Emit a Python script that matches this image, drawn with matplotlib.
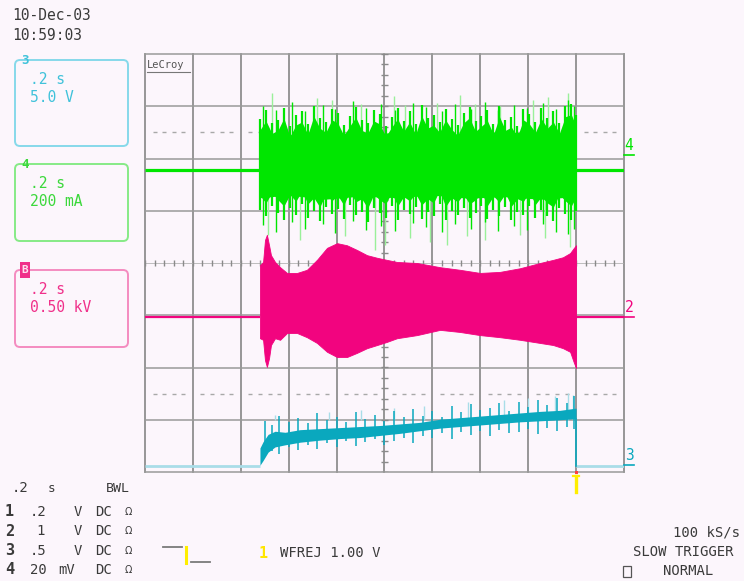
import numpy as np
import matplotlib
matplotlib.use("Agg")
import matplotlib.pyplot as plt
from matplotlib.patches import FancyBboxPatch, Rectangle
from matplotlib.lines import Line2D

W, H = 744, 581
BG = '#fcf6fc'
GRID = '#8a8a8a'
MONO = 'DejaVu Sans Mono'

# ---- screen set-up: 0.2 s/div, 10 x 8 divisions ----
time_per_div = 0.2
n_hdiv = 10
n_vdiv = 8

burst_start = 0.48   # s
burst_end = 1.80     # s (trigger point)

# trace offsets on screen (divisions)
ch4_level = 1.78
ch2_level = -1.03
ch3_level = -3.885

# ---- channel 2 (pink, 0.50 kV/div): envelope of the burst, in divisions ----
ch2_t = [0.480, 0.493, 0.501, 0.509, 0.518, 0.526, 0.543, 0.564, 0.593, 0.635,
         0.676, 0.718, 0.760, 0.802, 0.843, 0.885, 0.927, 0.969, 1.010, 1.052,
         1.136, 1.232, 1.315, 1.399, 1.482, 1.566, 1.649, 1.704, 1.745, 1.775,
         1.791, 1.800]
ch2_upper = [-0.04, 0.02, 0.44, 0.54, 0.34, 0.15, 0.02, -0.08, -0.19, -0.19,
             -0.13, 0.06, 0.29, 0.38, 0.34, 0.25, 0.15, 0.10, 0.06, 0.02,
             0.00, -0.08, -0.13, -0.19, -0.17, -0.10, 0.00, 0.06, 0.11, 0.19,
             0.29, 0.34]
ch2_lower = [-1.44, -1.47, -1.86, -1.99, -1.82, -1.57, -1.44, -1.47, -1.34, -1.34,
             -1.42, -1.53, -1.70, -1.80, -1.80, -1.72, -1.63, -1.57, -1.51, -1.44,
             -1.38, -1.28, -1.32, -1.38, -1.42, -1.47, -1.53, -1.57, -1.63, -1.70,
             -1.91, -2.01]

# ---- channel 4 (green, 200 mA/div), in divisions ----
# solid centre of the burst
ch4_core_t = [0.482, 0.600, 0.750, 0.900, 1.050, 1.200, 1.350, 1.500, 1.650, 1.798]
ch4_core_upper = [2.50, 2.45, 2.52, 2.46, 2.50, 2.44, 2.48, 2.52, 2.46, 2.50]
ch4_core_lower = [1.25, 1.30, 1.22, 1.28, 1.25, 1.30, 1.24, 1.27, 1.22, 1.27]
# dense sample-to-sample excursions around it
ch4_t = [0.482, 0.505, 0.530, 0.555, 0.580, 0.605, 0.630, 0.655, 0.680, 0.705,
         0.730, 0.755, 0.780, 0.805, 0.830, 0.855, 0.880, 0.905, 0.930, 0.955,
         0.980, 1.005, 1.030, 1.055, 1.080, 1.105, 1.130, 1.155, 1.180, 1.205,
         1.230, 1.255, 1.280, 1.305, 1.330, 1.355, 1.380, 1.405, 1.430, 1.455,
         1.480, 1.505, 1.530, 1.555, 1.580, 1.605, 1.630, 1.655, 1.680, 1.705,
         1.730, 1.755, 1.780, 1.798]
ch4_upper = [2.76, 2.92, 2.68, 2.74, 2.97, 2.62, 2.84, 2.90, 2.66, 3.01,
             2.78, 2.70, 2.94, 2.88, 2.64, 2.82, 2.99, 2.74, 2.68, 2.92,
             2.86, 2.62, 2.80, 2.96, 2.72, 2.90, 2.66, 3.02, 2.78, 2.84,
             2.70, 2.94, 2.76, 2.64, 2.88, 2.98, 2.72, 2.82, 2.92, 2.66,
             3.00, 2.74, 2.80, 2.62, 2.94, 2.86, 2.70, 2.96, 2.78, 2.90,
             2.68, 3.00, 3.04, 2.84]
ch4_lower = [1.02, 0.89, 1.09, 0.95, 0.83, 1.05, 0.92, 1.12, 0.87, 0.99,
             0.81, 1.07, 0.93, 1.03, 0.85, 1.11, 0.91, 0.97, 0.79, 1.05,
             0.95, 0.87, 1.09, 0.83, 1.01, 0.93, 1.07, 0.85, 0.97, 0.89,
             1.13, 0.82, 0.99, 0.91, 1.05, 0.87, 0.95, 1.09, 0.84, 1.02,
             0.90, 1.07, 0.83, 0.97, 0.92, 1.10, 0.86, 1.01, 0.89, 0.81,
             1.05, 0.93, 0.83, 0.99]
# isolated peaks reaching further out
ch4_peak_t = [0.493, 0.545, 0.612, 0.668, 0.742, 0.795, 0.868, 0.921, 0.987, 1.043,
              1.118, 1.172, 1.238, 1.293, 1.362, 1.418, 1.473, 1.541, 1.597, 1.662,
              1.718, 1.768, 1.790]
ch4_peak_hi = [3.00, 2.92, 3.08, 2.90, 3.02, 2.94, 3.10, 2.96, 3.04, 2.92,
               3.06, 2.98, 2.90, 3.05, 2.95, 3.08, 2.93, 3.02, 2.96, 3.06,
               2.94, 3.12, 3.00]
ch4_peak_lo = [0.72, 0.60, 0.78, 0.66, 0.74, 0.58, 0.80, 0.64, 0.70, 0.62,
               0.76, 0.68, 0.60, 0.74, 0.66, 0.78, 0.62, 0.70, 0.64, 0.74,
               0.60, 0.56, 0.66]
# faint single-sample excursions
ch4_up_t = [0.530, 0.718, 0.781, 0.900, 1.040, 1.086, 1.219, 1.315, 1.378, 1.482,
            1.620, 1.683, 1.766]
ch4_up_hi = [3.25, 3.16, 3.12, 3.05, 3.20, 3.02, 3.06, 3.22, 3.05, 3.00,
             3.12, 3.18, 3.25]
ch4_dn_t = [0.514, 0.647, 0.835, 0.960, 1.002, 1.106, 1.190, 1.261, 1.344, 1.420,
            1.566, 1.670, 1.775]
ch4_dn_lo = [0.54, 0.44, 0.52, 0.25, 0.34, 0.48, 0.40, 0.34, 0.52, 0.44,
             0.54, 0.48, 0.30]

# ---- channel 3 (cyan, 5.0 V/div): rising noisy band, in divisions ----
ch3_t = [0.480, 0.493, 0.514, 0.543, 0.585, 0.647, 0.731, 0.814, 0.898, 0.981,
         1.065, 1.148, 1.232, 1.315, 1.399, 1.482, 1.566, 1.649, 1.733, 1.795,
         1.800]
ch3_upper = [-3.54, -3.42, -3.28, -3.22, -3.24, -3.19, -3.17, -3.15, -3.13, -3.11,
             -3.08, -3.05, -2.99, -2.96, -2.93, -2.90, -2.87, -2.84, -2.82, -2.78,
             -2.78]
ch3_lower = [-3.87, -3.78, -3.62, -3.52, -3.48, -3.43, -3.39, -3.36, -3.34, -3.30,
             -3.26, -3.21, -3.16, -3.13, -3.10, -3.07, -3.04, -3.02, -3.00, -2.98,
             -2.98]
ch3_peak_t = [0.50, 0.53, 0.56, 0.60, 0.64, 0.68, 0.72, 0.76, 0.80, 0.84,
              0.88, 0.92, 0.96, 1.00, 1.04, 1.08, 1.12, 1.16, 1.20, 1.24,
              1.28, 1.32, 1.36, 1.40, 1.44, 1.48, 1.52, 1.56, 1.60, 1.64,
              1.68, 1.72, 1.76, 1.79]
ch3_peak_hi = [-3.02, -3.10, -2.92, -3.04, -2.96, -3.06, -2.88, -3.00, -2.94, -3.05,
               -2.86, -2.98, -2.90, -3.02, -2.84, -2.95, -2.80, -2.92, -2.84, -2.94,
               -2.74, -2.86, -2.70, -2.82, -2.78, -2.68, -2.84, -2.66, -2.76, -2.62,
               -2.72, -2.58, -2.68, -2.54]
ch3_peak_lo = [-3.70, -3.60, -3.66, -3.52, -3.58, -3.48, -3.56, -3.44, -3.52, -3.40,
               -3.50, -3.42, -3.36, -3.48, -3.40, -3.34, -3.44, -3.32, -3.34, -3.26,
               -3.36, -3.24, -3.30, -3.22, -3.32, -3.20, -3.26, -3.24, -3.18, -3.28,
               -3.16, -3.22, -3.14, -3.18]
ch3_up_t = [0.543, 0.770, 0.900, 1.040, 1.165, 1.350, 1.500, 1.600, 1.710, 1.766, 1.785]
ch3_up_hi = [-2.91, -2.85, -2.81, -2.78, -2.74, -2.66, -2.62, -2.58, -2.54, -2.49, -2.53]

# ---- annotation text ----
date_str = '10-Dec-03'
time_str = '10:59:03'
zoom_boxes = [  # (tag, time/div, volts/div, line colour, text colour, top, bottom)
    ('3', '.2 s', '5.0 V', '#86d9ea', '#40c2da', 60, 146),
    ('4', '.2 s', '200 mA', '#86ea86', '#3cd83c', 164, 241),
    ('B', '.2 s', '0.50 kV', '#f48cc0', '#f0308a', 270, 347),
]
chan_rows = [('1', '.2', 'V'), ('2', '1', 'V'), ('3', '.5', 'V'), ('4', '20', 'mV')]

PINK = '#f2047f'
GREEN = '#00e600'
GREEN_LT = '#9af09a'
CYAN = '#0aa8be'
CYAN_LT = '#a9dde8'
TXT = '#3a3a3a'

fig = plt.figure(figsize=(W / 100, H / 100), dpi=100, facecolor=BG)
ax = fig.add_axes([145 / W, 1 - 472 / H, 479 / W, 418 / H])
t_max = n_hdiv * time_per_div
ax.set_xlim(0, t_max)
ax.set_ylim(-n_vdiv / 2, n_vdiv / 2)
ax.axis('off')

# graticule
for i in range(n_hdiv + 1):
    ax.axvline(i * time_per_div, color=GRID, lw=1.25, zorder=1, clip_on=False)
for j in [-4, -3, -2, -1, 1, 2, 3, 4]:
    ax.axhline(j, color='#9a9a9a', lw=1.1, zorder=1, clip_on=False)
ax.axhline(0, color='#b4b4b4', lw=0.6, zorder=1)
minor_x = np.arange(0, t_max + 1e-9, time_per_div / 5)
minor_y = np.arange(-4, 4 + 1e-9, 0.2)
ax.vlines(minor_x, -0.06, 0.06, color=GRID, lw=1.0, zorder=1)
ax.hlines(minor_y, t_max / 2 - 0.016, t_max / 2 + 0.016, color=GRID, lw=1.0, zorder=1)
dot_x = [x for x in minor_x if abs(x / time_per_div - round(x / time_per_div)) > 1e-6]
for yd in (2.5, -2.5):
    ax.plot(dot_x, [yd] * len(dot_x), ls='none', marker='_', ms=2.5, mew=1.0,
            color='#a8a8a8', zorder=1)

# channel 4 (green)
ax.plot([0, burst_start], [ch4_level] * 2, color=GREEN, lw=2.3, zorder=3, solid_capstyle='butt')
ax.plot([burst_end, t_max], [ch4_level] * 2, color=GREEN, lw=2.3, zorder=3, solid_capstyle='butt')
ax.vlines(ch4_up_t, 2.0, ch4_up_hi, color=GREEN_LT, lw=1.0, zorder=2)
ax.vlines(ch4_dn_t, ch4_dn_lo, 1.5, color=GREEN_LT, lw=1.0, zorder=2)
ax.vlines(ch4_peak_t, ch4_peak_lo, ch4_peak_hi, color=GREEN, lw=1.0, zorder=3)
ax.vlines(ch4_t, ch4_lower, ch4_upper, color=GREEN, lw=1.6, zorder=3)
ax.fill_between(ch4_t, [v + 0.26 for v in ch4_lower], [v - 0.20 for v in ch4_upper],
                color=GREEN, lw=0, zorder=3)
ax.fill_between(ch4_core_t, ch4_core_lower, ch4_core_upper, color=GREEN, lw=0, zorder=3)

# channel 2 (pink)
ax.plot([0, burst_start], [ch2_level] * 2, color=PINK, lw=1.6, zorder=3, solid_capstyle='butt')
ax.plot([burst_end, t_max], [ch2_level] * 2, color=PINK, lw=1.6, zorder=3, solid_capstyle='butt')
ax.fill_between(ch2_t, ch2_lower, ch2_upper, color=PINK, lw=0.6, ec=PINK, zorder=3)

# channel 3 (cyan)
ax.plot([0, burst_start], [ch3_level] * 2, color=CYAN_LT, lw=2.0, zorder=3, solid_capstyle='butt')
ax.plot([burst_end, t_max], [ch3_level] * 2, color=CYAN_LT, lw=2.0, zorder=3, solid_capstyle='butt')
ax.plot([burst_end, burst_end], [ch3_lower[-1], ch3_level], color=CYAN, lw=1.2, zorder=3)
ax.vlines(ch3_up_t, -3.0, ch3_up_hi, color=CYAN_LT, lw=1.0, zorder=2)
ax.vlines(ch3_peak_t, ch3_peak_lo, ch3_peak_hi, color=CYAN, lw=1.1, zorder=3)
ax.fill_between(ch3_t, ch3_lower, ch3_upper, color=CYAN, lw=0, zorder=3)


def ftext(x, y, s, **kw):
    kw.setdefault('family', MONO)
    kw.setdefault('color', TXT)
    kw.setdefault('size', 10.5)
    fig.text(x / W, 1 - y / H, s, ha=kw.pop('ha', 'left'), va=kw.pop('va', 'center'), **kw)


def pline(xs, ys, color, lw=1.2):
    fig.add_artist(Line2D(xs, [H - y for y in ys], color=color, lw=lw, transform=None))


# LeCroy tag in the graticule corner
ftext(147, 65, 'LeCroy', size=7.5, color='#555555')
pline([147, 190], [72, 72], '#777777', 0.8)

# date and time
ftext(12, 16, date_str, size=10.5)
ftext(12, 36, time_str, size=10.5)

# zoom trace boxes
for tag, tdiv, vdiv, ec, tc, top, bot in zoom_boxes:
    fig.add_artist(FancyBboxPatch((15, H - bot), 113, bot - top,
                                  boxstyle='round,pad=0,rounding_size=5',
                                  fill=False, ec=ec, lw=1.4, transform=None))
    ftext(30, top + 19, tdiv, color=tc)
    ftext(30, top + 38, vdiv, color=tc)
    if tag == 'B':
        fig.add_artist(Rectangle((20, H - top - 8), 10, 16, fc=tc, ec='none', transform=None))
        ftext(25, top, tag, color='#fde0ee', size=8, ha='center', weight='bold')
    else:
        ftext(25, top + 1, tag, color=tc, size=9, ha='center', weight='bold')

# trace markers at the right edge
for tag, y, c in [('4', 146, GREEN), ('2', 308, PINK), ('3', 456, CYAN)]:
    ftext(629, y, tag, color=c, size=10.5, ha='center')
    pline([624, 634], [y + 9, y + 9], c, 1.2)

# trigger position marker
pline([576, 576], [476, 492], '#ffee00', 2.4)
pline([573, 579], [476, 476], '#ffee00', 1.6)
fig.add_artist(Rectangle((574.5, H - 474), 3, 3, fc='#ff4040', ec='none', transform=None))

# bottom-left channel settings
ftext(12, 488, '.2', size=10)
ftext(48, 488, 's', size=9)
ftext(106, 488, 'BWL', size=9.5)
for k, (num, val, unit) in enumerate(chan_rows):
    y = 512 + k * 19.3
    ftext(5, y, num, size=11, weight='bold')
    ftext(30 if len(val) > 1 else 36, y, val, size=10)
    ftext(58 if unit == 'mV' else 74, y, unit, size=10)
    ftext(95, y, 'DC', size=10)
    ftext(128, y, 'Ω', size=7, family='DejaVu Sans', ha='center')

# trigger description
pline([163, 182], [547, 547], '#7a7a7a', 1.3)
pline([186, 186], [547, 563], '#ffee00', 2.2)
pline([191, 210], [562, 562], '#7a7a7a', 1.3)
ftext(263, 553, '1', color='#ffe600', size=11, ha='center', weight='bold')
ftext(280, 553, 'WFREJ 1.00 V', size=10)

# acquisition status
ftext(673, 533, '100 kS/s', size=10)
ftext(633, 552, 'SLOW TRIGGER', size=10)
fig.add_artist(Rectangle((623, H - 577), 8, 11, fill=False, ec='#555555', lw=0.9, transform=None))
ftext(663, 571, 'NORMAL', size=10)

fig.savefig('out.png', dpi=100, facecolor=BG)
